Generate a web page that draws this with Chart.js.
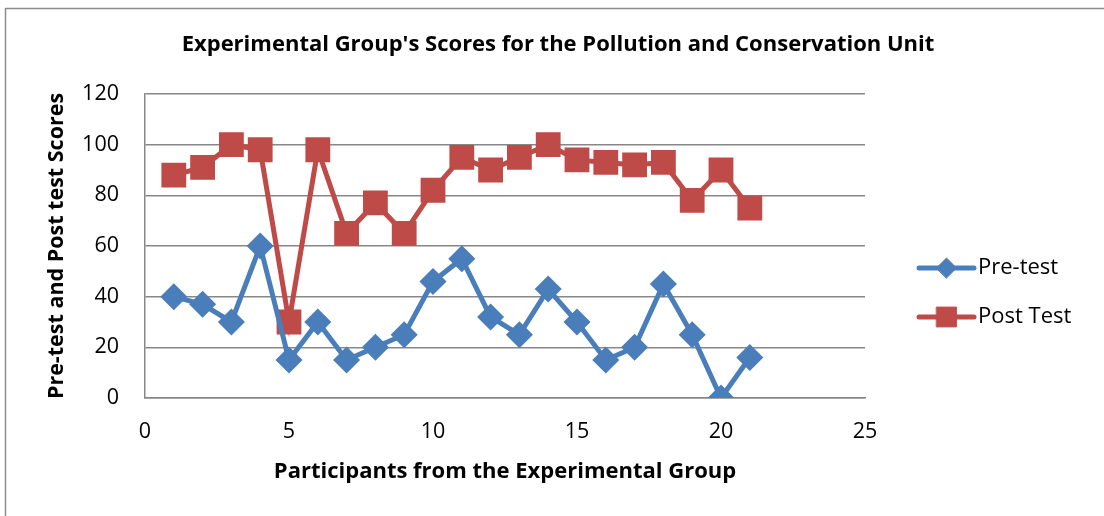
<!DOCTYPE html>
<html>
<head>
<meta charset="utf-8">
<script src="https://cdn.jsdelivr.net/npm/chart.js@4"></script>
<style>
  html, body { margin: 0; padding: 0; background: #fff; }
  #chart { display: block; }
</style>
</head>
<body>
<canvas id="chart" width="1104" height="516"></canvas>
<script>
// Participant numbers (x values)
const participants = [1, 2, 3, 4, 5, 6, 7, 8, 9, 10, 11, 12, 13, 14, 15, 16, 17, 18, 19, 20, 21];

// Scores
const preTest = [40, 37, 30, 60, 15, 30, 15, 20, 25, 46, 55, 32, 25, 43, 30, 15, 20, 45, 25, 0, 16];
const postTest = [88, 91, 100, 98, 30, 98, 65, 77, 65, 82, 95, 90, 95, 100, 94, 93, 92, 93, 78, 90, 75];

const seriesNames = ["Pre-test", "Post Test"];

const FONT = "'Open Sans', Calibri, sans-serif";
const GRID = "#878787";

const toPoints = (ys) => ys.map((y, i) => ({ x: participants[i], y: y }));

// Grey frame round the whole chart (cut off at right and bottom like the original)
const framePlugin = {
  id: "frame",
  beforeDraw(chart) {
    const ctx = chart.ctx;
    ctx.save();
    ctx.fillStyle = "#fff";
    ctx.fillRect(0, 0, chart.width, chart.height);
    ctx.strokeStyle = "#8c8c8c";
    ctx.lineWidth = 1.5;
    ctx.strokeRect(5.5, 8.5, chart.width + 20, chart.height + 20);
    ctx.restore();
  },
};

// Legend drawn as a line with the marker on it, as Excel does
const lineLegend = {
  id: "lineLegend",
  afterDraw(chart) {
    const ctx = chart.ctx;
    const x0 = 919, x1 = 974, rowY = [268, 317];
    chart.data.datasets.forEach((ds, i) => {
      const y = rowY[i];
      ctx.save();
      ctx.strokeStyle = ds.borderColor;
      ctx.lineWidth = 5;
      ctx.lineCap = "round";
      ctx.beginPath();
      ctx.moveTo(x0, y);
      ctx.lineTo(x1, y);
      ctx.stroke();
      ctx.fillStyle = ds.pointBackgroundColor;
      ctx.strokeStyle = ds.pointBorderColor;
      ctx.lineWidth = 1;
      Chart.helpers.drawPoint(ctx, {
        pointStyle: ds.pointStyle,
        radius: ds.pointRadius,
        rotation: 0,
        borderWidth: 1,
      }, (x0 + x1) / 2, y);
      ctx.fillStyle = "#000";
      ctx.font = "22px " + FONT;
      ctx.textBaseline = "middle";
      ctx.textAlign = "left";
      ctx.fillText(ds.label, x1 + 4, y);
      ctx.restore();
    });
  },
};

new Chart(document.getElementById("chart"), {
  type: "line",
  plugins: [framePlugin, lineLegend],
  data: {
    datasets: [
      {
        label: seriesNames[0],
        data: toPoints(preTest),
        borderColor: "#4A7EBB",
        backgroundColor: "#4A7EBB",
        pointBackgroundColor: "#4A7EBB",
        pointBorderColor: "#4A7EBB",
        pointStyle: "rectRot",
        pointRadius: 10,
        pointHoverRadius: 10,
        borderWidth: 5,
        tension: 0,
      },
      {
        label: seriesNames[1],
        data: toPoints(postTest),
        borderColor: "#BE4B48",
        backgroundColor: "#BE4B48",
        pointBackgroundColor: "#BE4B48",
        pointBorderColor: "#BE4B48",
        pointStyle: "rect",
        pointRadius: 14,
        pointHoverRadius: 14,
        borderWidth: 5,
        tension: 0,
      },
    ],
  },
  options: {
    responsive: false,
    animation: false,
    layout: { padding: { top: 13, left: 12, right: 0, bottom: 10 } },
    plugins: {
      legend: { display: false },
      tooltip: { enabled: false },
      title: {
        display: true,
        text: "Experimental Group's Scores for the Pollution and Conservation Unit",
        color: "#000",
        font: { family: FONT, size: 22, weight: "bold", lineHeight: 1.2 },
        padding: { top: 19, bottom: 35.6 },
      },
    },
    scales: {
      x: {
        type: "linear",
        min: 0,
        max: 25,
        ticks: { stepSize: 5, color: "#000", padding: 21, font: { family: FONT, size: 21.5 } },
        grid: { display: false, drawTicks: false },
        border: { display: true, color: GRID, width: 1.5 },
        title: {
          display: true,
          text: "Participants from the Experimental Group",
          color: "#000",
          font: { family: FONT, size: 22, weight: "bold", lineHeight: 1.2 },
          padding: { top: 10, bottom: 21 },
        },
        afterFit(scale) { scale.height = 108; },
      },
      y: {
        min: 0,
        max: 120,
        ticks: { stepSize: 20, color: "#000", padding: 26, font: { family: FONT, size: 21.5 } },
        grid: { color: GRID, lineWidth: 1.5, drawTicks: false },
        border: { display: true, color: GRID, width: 1.5 },
        title: {
          display: true,
          text: "Pre-test and Post test Scores",
          color: "#000",
          font: { family: FONT, size: 21.5, weight: "bold", lineHeight: 1.2 },
          padding: { top: 32, bottom: 0 },
        },
        afterFit(scale) { scale.width = 133; },
      },
      // empty axis on the right that keeps room for the legend
      legendSpace: {
        position: "right",
        ticks: { display: false },
        grid: { display: false, drawTicks: false },
        border: { display: false },
        afterFit(scale) { scale.width = 239; },
      },
    },
  },
});
</script>
</body>
</html>
